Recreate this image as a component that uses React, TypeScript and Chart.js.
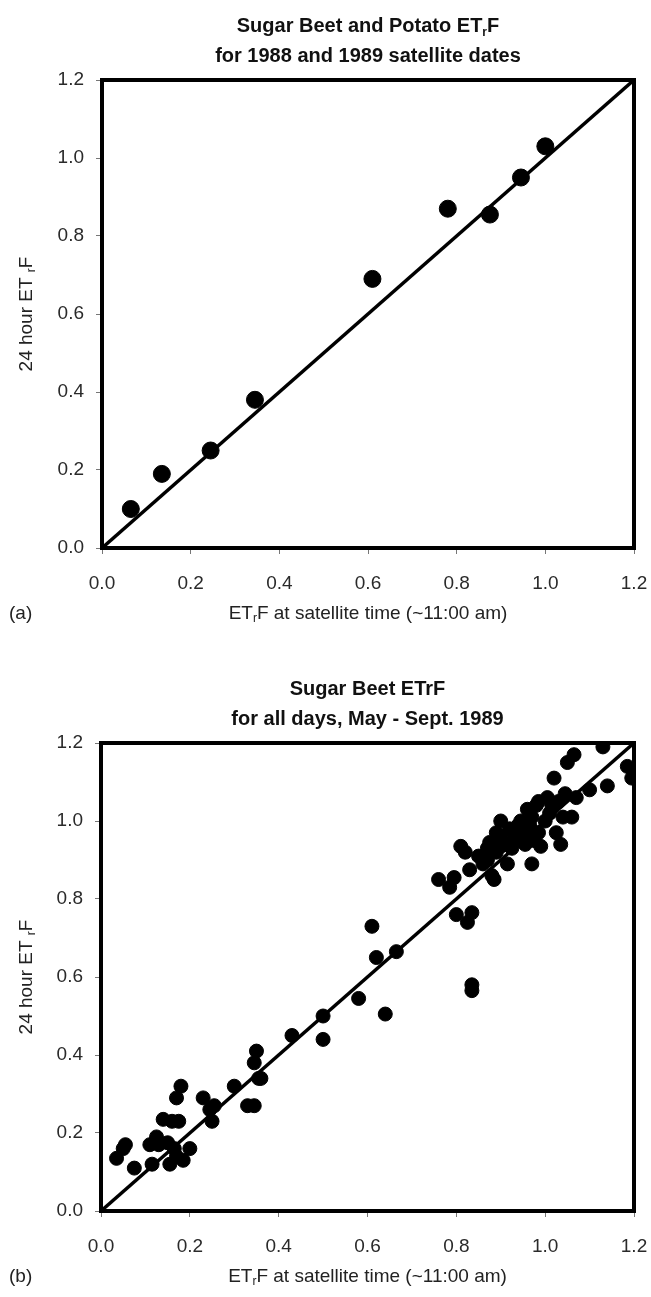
import React, { useEffect, useRef } from "react";
import { Chart, registerables } from "chart.js";

Chart.register(...registerables);

// ---------- data ----------
const AXIS_TICKS = [0, 0.2, 0.4, 0.6, 0.8, 1.0, 1.2];
const AXIS_TICK_LABELS = ["0.0", "0.2", "0.4", "0.6", "0.8", "1.0", "1.2"];
const ONE_TO_ONE_X = [0, 1.2];
const ONE_TO_ONE_Y = [0, 1.2];

// (a) satellite dates
const A_X = [0.065, 0.135, 0.245, 0.345, 0.61, 0.78, 0.875, 0.945, 1.0];
const A_Y = [0.1, 0.19, 0.25, 0.38, 0.69, 0.87, 0.855, 0.95, 1.03];

// (b) all days
const B_X = [
  0.035, 0.05, 0.055, 0.075, 0.11, 0.115, 0.125, 0.13, 0.14, 0.15, 0.155, 0.16, 0.165, 0.17, 0.175, 0.17,
  0.18, 0.185, 0.2, 0.23, 0.245, 0.25, 0.255, 0.3, 0.33, 0.345, 0.345, 0.35, 0.355, 0.36,
  0.43, 0.5, 0.5, 0.58, 0.61, 0.62, 0.64, 0.665, 0.835, 0.835,
  0.76, 0.785, 0.795, 0.8, 0.81, 0.825, 0.835, 0.83, 0.82, 0.85, 0.86, 0.87, 0.87, 0.875, 0.88, 0.885,
  0.89, 0.89, 0.9, 0.9, 0.91, 0.915, 0.92, 0.925, 0.93, 0.94, 0.945, 0.95, 0.955, 0.96, 0.965, 0.97,
  0.97, 0.975, 0.98, 0.985, 0.99, 1.0, 1.005, 1.01, 1.015, 1.02, 1.025, 1.03, 1.035, 1.04, 1.045, 1.05,
  1.06, 1.065, 1.07, 1.1, 1.13, 1.14, 1.185, 1.195, 0.9, 0.96, 0.985, 0.94,
];
const B_Y = [
  0.135, 0.16, 0.17, 0.11, 0.17, 0.12, 0.19, 0.17, 0.235, 0.175, 0.12, 0.23, 0.16, 0.14, 0.23, 0.29,
  0.32, 0.13, 0.16, 0.29, 0.26, 0.23, 0.27, 0.32, 0.27, 0.27, 0.38, 0.41, 0.34, 0.34,
  0.45, 0.5, 0.44, 0.545, 0.73, 0.65, 0.505, 0.665, 0.58, 0.565,
  0.85, 0.83, 0.855, 0.76, 0.935, 0.74, 0.765, 0.875, 0.92, 0.91, 0.89, 0.93, 0.9, 0.945, 0.86, 0.85,
  0.92, 0.97, 0.935, 1.0, 0.94, 0.89, 0.98, 0.93, 0.96, 0.99, 1.0, 0.965, 0.94, 1.03, 0.99, 1.01,
  0.89, 0.95, 1.04, 0.97, 0.935, 1.0, 1.06, 1.02, 1.04, 1.11, 0.97, 1.05, 0.94, 1.01, 1.07, 1.15,
  1.01, 1.17, 1.06, 1.08, 1.19, 1.09, 1.14, 1.11, 0.96, 0.97, 1.05, 0.95,
];

type Seg = { t: string; sub?: boolean };

const TITLE_A: Seg[][] = [
  [{ t: "Sugar Beet and Potato ET" }, { t: "r", sub: true }, { t: "F" }],
  [{ t: "for 1988 and 1989 satellite dates" }],
];
const TITLE_B: Seg[][] = [
  [{ t: "Sugar Beet ETrF" }],
  [{ t: "for all days, May - Sept. 1989" }],
];
const Y_TITLE: Seg[] = [{ t: "24 hour ET " }, { t: "r", sub: true }, { t: "F" }];
const X_TITLE: Seg[] = [{ t: "ET" }, { t: "r", sub: true }, { t: "F at satellite time (~11:00 am)" }];

const FONT = "'Liberation Sans', Arial, sans-serif";
const TITLE_SIZE = 20;
const LABEL_SIZE = 19;
const TICK_SIZE = 19;

function drawRich(
  ctx: CanvasRenderingContext2D,
  segs: Seg[],
  x: number,
  y: number,
  size: number,
  bold: boolean,
  color: string
) {
  const w = bold ? "bold " : "";
  let total = 0;
  const widths: number[] = [];
  for (const s of segs) {
    ctx.font = `${w}${s.sub ? Math.round(size * 0.62) : size}px ${FONT}`;
    const m = ctx.measureText(s.t).width;
    widths.push(m);
    total += m;
  }
  let cx = x - total / 2;
  ctx.fillStyle = color;
  ctx.textAlign = "left";
  ctx.textBaseline = "alphabetic";
  segs.forEach((s, i) => {
    ctx.font = `${w}${s.sub ? Math.round(size * 0.62) : size}px ${FONT}`;
    ctx.fillText(s.t, cx, s.sub ? y + size * 0.18 : y);
    cx += widths[i];
  });
}

function makeDecor(title: Seg[][], panel: string) {
  return {
    id: "decor" + panel,
    afterDatasetsDraw(chart: any) {
      const { ctx, chartArea } = chart;
      const { left, right, top, bottom } = chartArea;
      ctx.save();
      // frame
      ctx.strokeStyle = "#000";
      ctx.lineWidth = 4;
      ctx.strokeRect(left, top, right - left, bottom - top);
      const cx = (left + right) / 2;
      // titles
      drawRich(ctx, title[0], cx, top - 48, TITLE_SIZE, true, "#111");
      drawRich(ctx, title[1], cx, top - 18, TITLE_SIZE, true, "#111");
      // x title
      drawRich(ctx, X_TITLE, cx, bottom + 71, LABEL_SIZE, false, "#222");
      // panel label
      ctx.font = `${LABEL_SIZE}px ${FONT}`;
      ctx.fillStyle = "#222";
      ctx.textAlign = "left";
      ctx.textBaseline = "alphabetic";
      ctx.fillText(panel, 9, bottom + 71);
      // y title
      ctx.translate(32, (top + bottom) / 2);
      ctx.rotate(-Math.PI / 2);
      drawRich(ctx, Y_TITLE, 0, 0, LABEL_SIZE, false, "#222");
      ctx.restore();
    },
  };
}

function makeConfig(xs: number[], ys: number[], radius: number, title: Seg[][], panel: string, h: number, top: number, bottom: number, left: number) {
  const pts = xs.map((x, i) => ({ x, y: ys[i] }));
  const line = ONE_TO_ONE_X.map((x, i) => ({ x, y: ONE_TO_ONE_Y[i] }));
  const tickCfg = (isX: boolean) => ({
    type: "linear" as const,
    min: 0,
    max: 1.2,
    afterBuildTicks: (scale: any) => {
      scale.ticks = AXIS_TICKS.map((v) => ({ value: v }));
    },
    afterFit: (scale: any) => {
      if (isX) scale.height = h - bottom;
      else scale.width = left;
      scale.paddingLeft = 0;
      scale.paddingRight = 0;
      scale.paddingTop = 0;
      scale.paddingBottom = 0;
    },
    ticks: {
      callback: (_v: any, i: number) => AXIS_TICK_LABELS[i],
      font: { family: FONT, size: TICK_SIZE },
      color: "#2a2a2a",
      padding: isX ? 18 : 12,
      maxRotation: 0,
      autoSkip: false,
    },
    grid: {
      drawOnChartArea: false,
      drawTicks: true,
      tickLength: 6,
      color: "#777",
      lineWidth: 1,
    },
    border: { display: false },
  });
  return {
    type: "scatter" as const,
    data: {
      datasets: [
        {
          type: "line" as const,
          data: line,
          borderColor: "#000",
          borderWidth: 3.5,
          pointRadius: 0,
          fill: false,
          clip: 0,
        },
        {
          data: pts,
          backgroundColor: "#000",
          borderColor: "#000",
          pointRadius: radius,
          pointHoverRadius: radius,
          clip: 0,
        },
      ],
    },
    options: {
      animation: false as const,
      responsive: false,
      maintainAspectRatio: false,
      layout: { padding: { top, right: 17, left: 0, bottom: 0 } },
      plugins: { legend: { display: false }, tooltip: { enabled: false }, title: { display: false } },
      scales: { x: tickCfg(true), y: tickCfg(false) },
    },
    plugins: [makeDecor(title, panel)],
  };
}

function Panel(props: { xs: number[]; ys: number[]; radius: number; title: Seg[][]; panel: string; h: number; top: number; bottom: number; left: number }) {
  const ref = useRef<HTMLCanvasElement | null>(null);
  useEffect(() => {
    if (!ref.current) return;
    const chart = new Chart(ref.current, makeConfig(props.xs, props.ys, props.radius, props.title, props.panel, props.h, props.top, props.bottom, props.left) as any);
    return () => chart.destroy();
  }, []);
  return <canvas ref={ref} width={651} height={props.h} style={{ display: "block", width: 651, height: props.h }} />;
}

export default function App() {
  return (
    <div style={{ position: "absolute", left: 0, top: 0, width: 651, height: 1297, background: "#fff" }}>
      <Panel xs={A_X} ys={A_Y} radius={8.5} title={TITLE_A} panel="(a)" h={648} top={80} bottom={548} left={102} />
      <Panel xs={B_X} ys={B_Y} radius={7} title={TITLE_B} panel="(b)" h={649} top={95} bottom={563} left={101} />
    </div>
  );
}
